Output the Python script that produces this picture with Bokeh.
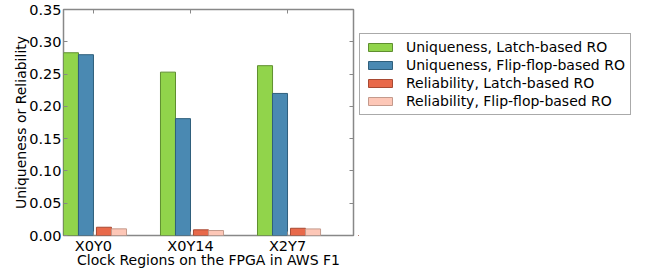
from bokeh.plotting import figure
from bokeh.layouts import row
from bokeh.models import (FixedTicker, NumeralTickFormatter, LinearAxis, Legend,
                          LegendItem, ColumnDataSource, Range1d, CustomJSTickFormatter)
from bokeh.embed import file_html
from bokeh.resources import INLINE

regions = ["X0Y0", "X0Y14", "X2Y7"]
uniq_latch = [0.283, 0.253, 0.263]
uniq_ff = [0.280, 0.181, 0.220]
rel_latch = [0.0128, 0.0088, 0.0112]
rel_ff = [0.0103, 0.0077, 0.0102]
y_ticks = [0.0, 0.05, 0.10, 0.15, 0.20, 0.25, 0.30, 0.35]

series = [
    ("Uniqueness, Latch-based RO", uniq_latch, "#91d44b", "#5f8f2f", -0.232),
    ("Uniqueness, Flip-flop-based RO", uniq_ff, "#4a89b2", "#2f5f7c", -0.0775),
    ("Reliability, Latch-based RO", rel_latch, "#e8694a", "#a84a33", 0.108),
    ("Reliability, Flip-flop-based RO", rel_ff, "#fdc7b7", "#c49a8c", 0.263),
]
W = 0.155
FONT = "DejaVu Sans"

p = figure(width=358, height=285, output_backend="svg", toolbar_location=None,
           x_range=Range1d(-0.309, 2.68), y_range=Range1d(0, 0.35),
           min_border_left=63, min_border_right=5, min_border_top=9,
           min_border_bottom=50)
p.grid.visible = False
p.outline_line_color = "#888888"
p.outline_line_width = 1.5
p.background_fill_color = "white"
p.border_fill_color = "white"

# legend-only companion figure (its ranges keep the proxy bars out of view)
pl = figure(width=297, height=285, output_backend="svg", toolbar_location=None,
            x_range=Range1d(10, 11), y_range=Range1d(10, 11),
            x_axis_location=None, y_axis_location=None, min_border=0)
pl.grid.visible = False
pl.outline_line_color = None
pl.border_fill_color = "white"
pl.background_fill_color = "white"

items = []
for label, vals, fc, lc, off in series:
    src = ColumnDataSource(dict(x=[i + off for i in range(len(regions))], top=vals))
    p.vbar(x="x", top="top", width=W, source=src, fill_color=fc,
           line_color=lc, line_width=1)
    proxy = pl.vbar(x="x", top="top", width=W, source=src, fill_color=fc,
                    line_color=lc, line_width=1)
    items.append(LegendItem(label=label, renderers=[proxy]))

def style_axis(ax):
    ax.major_tick_in = 4
    ax.major_tick_out = 0
    ax.minor_tick_in = 0
    ax.minor_tick_out = 0
    ax.axis_line_color = None
    ax.major_tick_line_color = "#888888"
    ax.major_label_text_font = FONT
    ax.major_label_text_font_size = "14.5px"
    ax.major_label_text_color = "black"
    ax.axis_label_text_font = FONT
    ax.axis_label_text_font_size = "14px"
    ax.axis_label_text_font_style = "normal"
    ax.axis_label_text_color = "black"

xa = p.xaxis[0]
style_axis(xa)
xa.ticker = FixedTicker(ticks=list(range(len(regions))))
xa.major_label_overrides = {i: r for i, r in enumerate(regions)}
xa.major_label_standoff = 2
xa.axis_label = "Clock Regions on the FPGA in AWS F1"
xa.axis_label_standoff = -5

ya = p.yaxis[0]
style_axis(ya)
ya.ticker = FixedTicker(ticks=y_ticks)
ya.formatter = NumeralTickFormatter(format="0.00")
ya.major_label_standoff = 2
ya.axis_label = "Uniqueness or Reliability"
ya.axis_label_standoff = -3

blank = CustomJSTickFormatter(code="return ''")

top_ax = LinearAxis(ticker=FixedTicker(ticks=list(range(len(regions)))), formatter=blank)
style_axis(top_ax)
top_ax.major_label_standoff = 0
p.add_layout(top_ax, "above")

right_ax = LinearAxis(ticker=FixedTicker(ticks=y_ticks), formatter=blank)
style_axis(right_ax)
right_ax.major_label_standoff = 0
p.add_layout(right_ax, "right")

legend = Legend(items=items, location=(1, 120))
legend.label_text_font = FONT
legend.label_text_font_size = "14px"
legend.label_text_color = "black"
legend.glyph_width = 30
legend.glyph_height = 10
legend.label_height = 16
legend.label_standoff = 11
legend.spacing = 2
legend.padding = 5
legend.margin = 0
legend.border_line_color = "#555555"
legend.border_line_width = 1
legend.background_fill_alpha = 1
pl.add_layout(legend, "center")

layout = row(p, pl)
open("out.html", "w").write(file_html(layout, INLINE))
